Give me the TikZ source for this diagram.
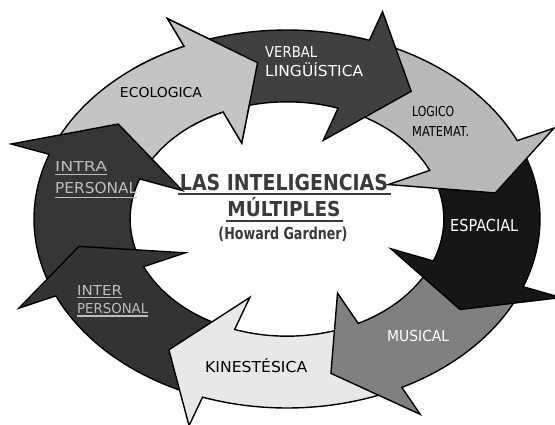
\documentclass[tikz,border=0pt]{standalone}
\usepackage{fontspec}
\setmainfont{DejaVu Sans}
\usepackage{graphicx}
\definecolor{cEco}{HTML}{C4C4C4}
\definecolor{cVerb}{HTML}{404040}
\definecolor{cLog}{HTML}{B9B9B9}
\definecolor{cEsp}{HTML}{161616}
\definecolor{cMus}{HTML}{808080}
\definecolor{cKin}{HTML}{E8E8E8}
\definecolor{cInter}{HTML}{333333}
\definecolor{cIntra}{HTML}{353535}
\definecolor{cTitle}{HTML}{3A3A3A}
\definecolor{cUl}{HTML}{BDBDBD}
% width, cap height, text
\newcommand{\fwh}[3]{\resizebox{#1pt}{#2pt}{\raisebox{0pt}[\fontcharht\font`E][0pt]{#3}}}
% #1 tail angle, #2 head back angle, #3 tip angle, #4 fill
\newcommand{\garrow}[4]{%
  \filldraw[ring, fill=#4] (#1:1) arc[start angle=#1, end angle=#2, radius=1]
    -- (#2:1.16) -- (#3:0.835) -- (#2:0.44) -- (#2:0.62)
    arc[start angle=#2, end angle=#1, radius=0.62] -- cycle;}
\begin{document}
\begin{tikzpicture}[x=1pt,y=-1pt,
  ring/.style={draw=black, line width=1.4pt, line join=miter},
  lbl/.style={inner sep=0pt},
  dk/.style={lbl, text=black},
  wt/.style={lbl, text=white},
  pers/.style={lbl, text=cUl},
  ttl/.style={lbl, text=cTitle, font=\bfseries},
  ulc/.style={draw=cTitle, line width=1.8pt},
  ulp/.style={draw=cUl, line width=1.1pt}]
\useasboundingbox[fill=white] (0,0) rectangle (555,425);
\begin{scope}[shift={(287,219)}, xscale=253, yscale=-189]
  \garrow{158}{114}{98}{cEco}
  \garrow{-158}{-200}{-217}{cIntra}
  \garrow{-111.5}{-156}{-170}{cInter}
  \garrow{-65}{-109.5}{-124}{cKin}
  \garrow{-23}{-63}{-78}{cMus}
  \garrow{22.5}{-21}{-35}{cEsp}
  \garrow{69}{24.5}{9.5}{cLog}
  \garrow{112}{71}{54}{cVerb}
  \begin{scope}
    \clip (0,0) -- (80:2) -- (105:2) -- (128:2) -- cycle;
    \garrow{158}{114}{98}{cEco}
  \end{scope}
\end{scope}
% labels
\node[dk, anchor=base] (eco) at (161,98) {\fwh{82}{10}{ECOLOGICA}};
\node[wt, anchor=base west] (verb1) at (265,58) {\fwh{52}{11}{VERBAL}};
\node[wt, anchor=base west] (verb2) at (265,77) {\fwh{98}{11}{LINGÜÍSTICA}};
\node[dk, anchor=base west] (log1) at (412,117) {\fwh{42}{10}{LOGICO}};
\node[dk, anchor=base west] (log2) at (412,137) {\fwh{57}{10}{MATEMAT.}};
\node[wt, anchor=base west] (esp) at (450,232) {\fwh{68}{12}{ESPACIAL}};
\node[wt, anchor=base west] (mus) at (387,341) {\fwh{62}{11}{MUSICAL}};
\node[dk, anchor=base west] (kin) at (205,372) {\fwh{102}{11}{KINESTÉSICA}};
\node[pers, anchor=base west] (inter1) at (77,295) {\fwh{45}{10}{INTER}};
\node[pers, anchor=base west] (inter2) at (77,313) {\fwh{71}{10}{PERSONAL}};
\node[pers, anchor=base west] (intra1) at (55,172) {\fwh{52}{10}{INTRA}};
\node[pers, anchor=base west] (intra2) at (55,194) {\fwh{82}{11}{PERSONAL}};
\draw[ulp] ([yshift=-2.5pt]inter1.base west) -- ([yshift=-2.5pt]inter1.base east);
\draw[ulp] ([yshift=-3pt]inter2.base west) -- ([yshift=-3pt]inter2.base east);
\draw[ulp] ([yshift=-2.5pt]intra1.base west) -- ([yshift=-2.5pt]intra1.base east);
\draw[ulp] ([yshift=-3.5pt]intra2.base west) -- ([yshift=-3.5pt]intra2.base east);
% title
\node[ttl, anchor=base] (t1) at (284,191) {\fwh{208}{16}{LAS INTELIGENCIAS}};
\draw[ulc] ([yshift=-3pt,xshift=-2pt]t1.base west) -- ([yshift=-3pt,xshift=3pt]t1.base east);
\node[ttl, anchor=base] (t2) at (284,217) {\fwh{113}{15}{MÚLTIPLES}};
\draw[ulc] ([yshift=-4pt,xshift=-1pt]t2.base west) -- ([yshift=-4pt,xshift=2pt]t2.base east);
\node[ttl, anchor=base] (t3) at (283,240) {\fwh{129}{12}{(Howard Gardner)}};
\end{tikzpicture}
\end{document}
